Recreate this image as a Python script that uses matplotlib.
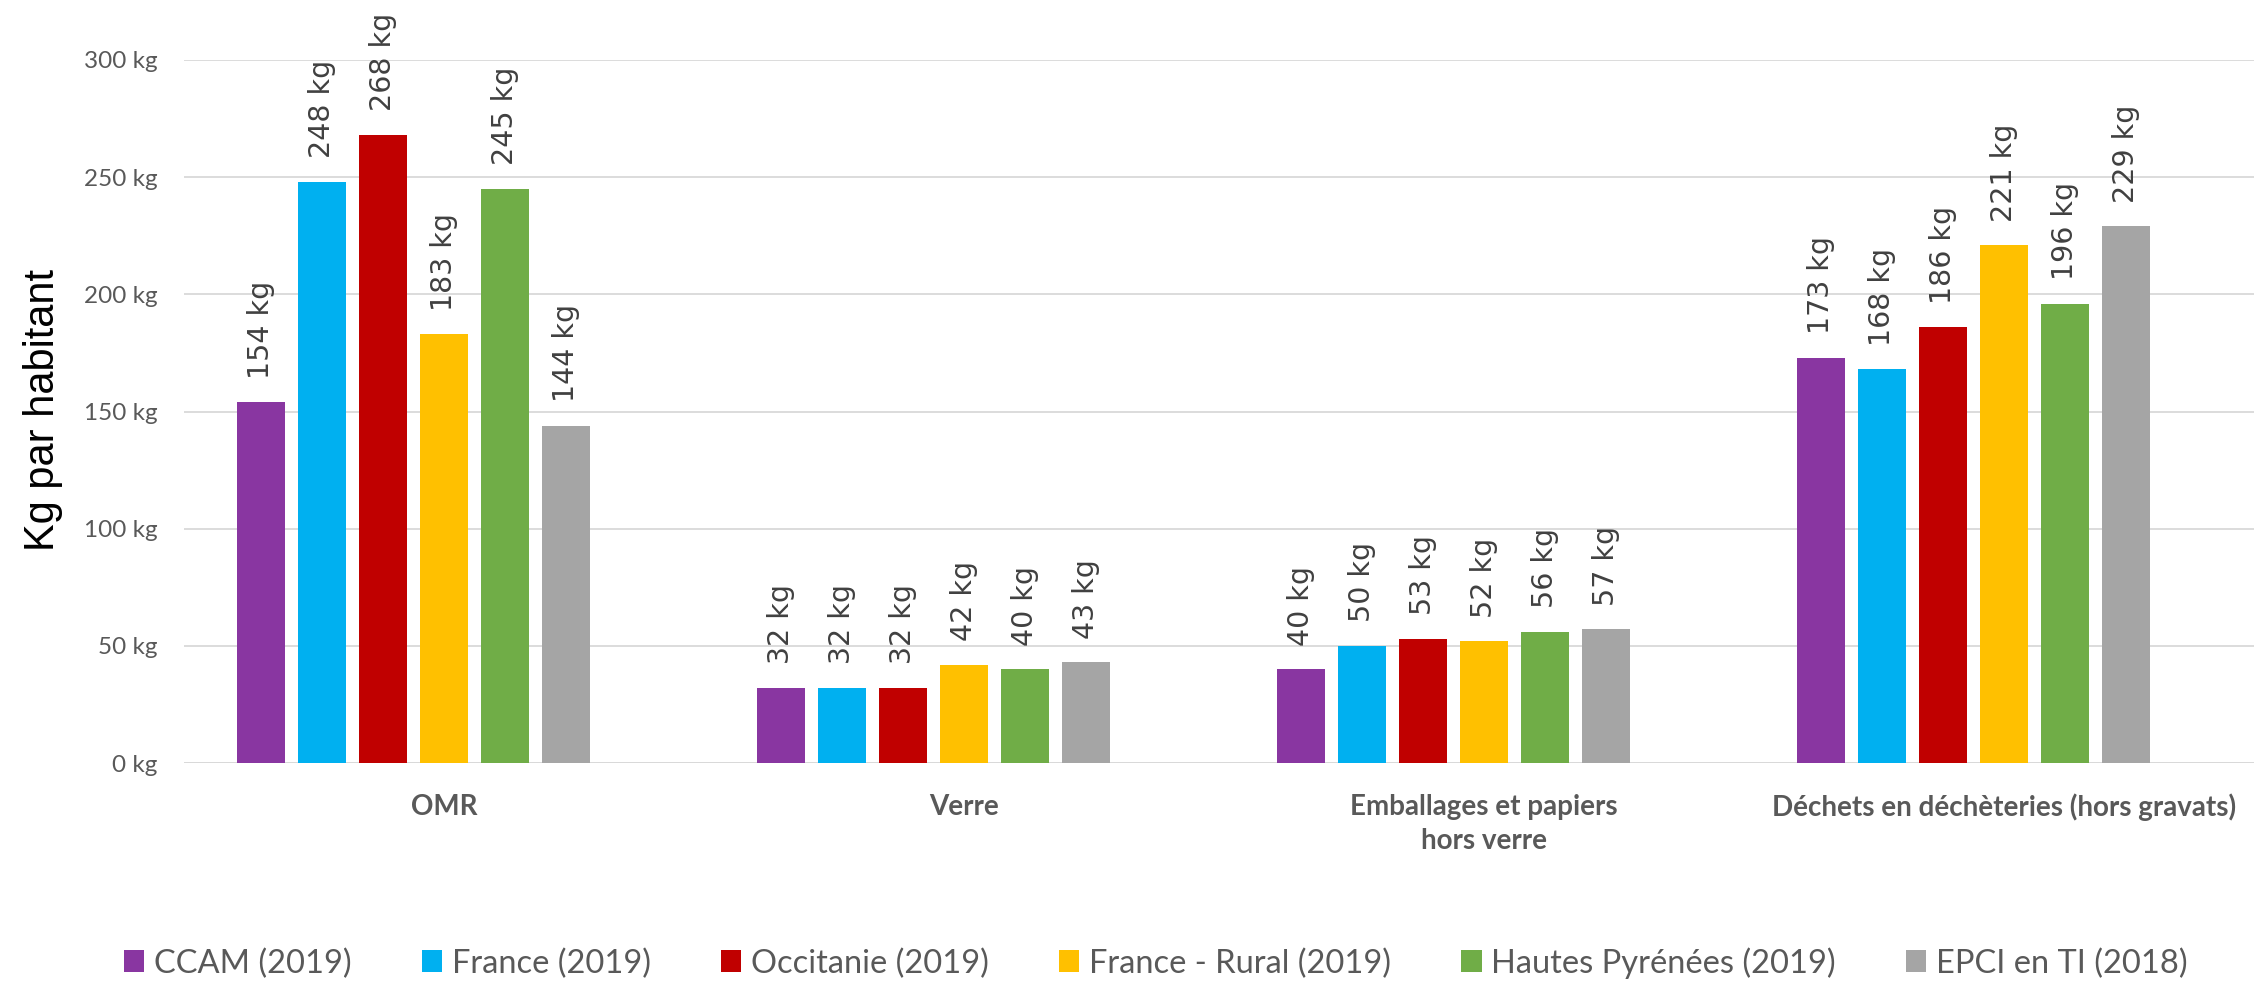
import matplotlib
matplotlib.use("Agg")
import matplotlib.pyplot as plt
from matplotlib.patches import Patch
import numpy as np

# Données : kg par habitant
categories = ["OMR", "Verre", "Emballages et papiers\nhors verre",
              "Déchets en déchèteries (hors gravats)"]
series = ["CCAM (2019)", "France (2019)", "Occitanie (2019)",
          "France - Rural (2019)", "Hautes Pyrénées (2019)", "EPCI en TI (2018)"]
ccam = [154, 32, 40, 173]
france = [248, 32, 50, 168]
occitanie = [268, 32, 53, 186]
france_rural = [183, 42, 52, 221]
hautes_pyrenees = [245, 40, 56, 196]
epci_ti = [144, 43, 57, 229]
y_ticks = [0, 50, 100, 150, 200, 250, 300]

values = [ccam, france, occitanie, france_rural, hautes_pyrenees, epci_ti]
colors = ["#8936A1", "#00B0F0", "#C00000", "#FFC000", "#70AD47", "#A5A5A5"]

W, H = 2254, 991
fig = plt.figure(figsize=(W / 100, H / 100), dpi=100)
ax = fig.add_axes([184 / W, 1 - 763 / H, (2264 - 184) / W, (763 - 60) / H])

x = np.arange(len(categories))
pitch = 0.1173
bar_w = 0.0923

# 7 emplacements par groupe (le dernier vide, comme dans Excel)
for i, (name, vals, col) in enumerate(zip(series, values, colors)):
    pos = x + (i - 3) * pitch
    bars = ax.bar(pos, vals, width=bar_w, color=col, label=name, zorder=3)
    for b, v in zip(bars, vals):
        ax.annotate(f"{v} kg", (b.get_x() + b.get_width() / 2, v),
                    xytext=(0, 17), textcoords="offset points",
                    rotation=90, ha="center", va="bottom",
                    fontsize=20.5, color="#404040", family="DejaVu Sans")

ax.set_xlim(-0.5, 3.5)
ax.set_ylim(0, 300)
ax.set_yticks(y_ticks)
ax.set_yticklabels([f"{v} kg" for v in y_ticks], family=["Lato", "DejaVu Sans"],
                   fontsize=17.5, color="#595959")
ax.set_xticks(x)
ax.set_xticklabels(categories, family=["Lato", "DejaVu Sans"], fontsize=20,
                   fontweight="bold", color="#595959", linespacing=1.4)
ax.tick_params(axis="both", length=0)
ax.tick_params(axis="y", pad=19)
ax.tick_params(axis="x", pad=22)
for s in ax.spines.values():
    s.set_visible(False)
ax.grid(axis="y", color="#D9D9D9", linewidth=1.3, zorder=0)
ax.axhline(0, color="#D9D9D9", linewidth=2, zorder=2)

fig.text(43 / W, 1 - 410 / H, "Kg par habitant", rotation=90, ha="center",
         va="center", fontsize=30, family="Liberation Sans", color="black")

handles = [Patch(facecolor=c, label=n) for n, c in zip(series, colors)]
leg = fig.legend(handles=handles, loc="center", bbox_to_anchor=(1156 / W, 1 - 963 / H),
                 ncol=6, frameon=False, handlelength=0.62, handleheight=0.65,
                 handletextpad=0.3, columnspacing=2.15,
                 prop={"family": ["Lato", "DejaVu Sans"], "size": 23.5})
for t in leg.get_texts():
    t.set_color("#595959")

fig.savefig("out.png", dpi=100)
